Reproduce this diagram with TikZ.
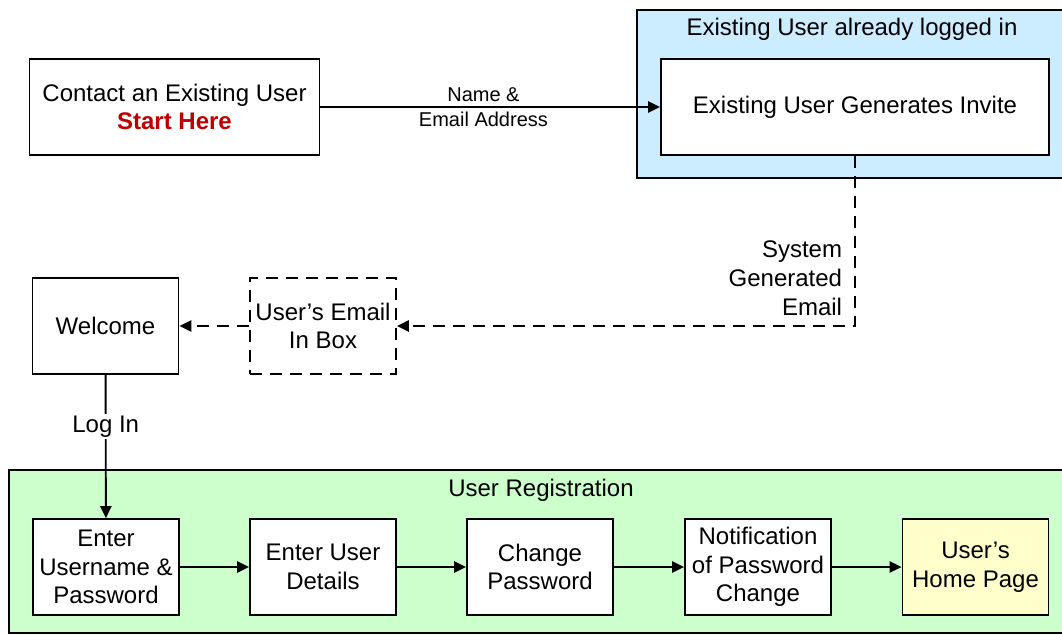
\documentclass[tikz,border=0pt]{standalone}
\usepackage{fontspec}
\setmainfont{Liberation Sans}
\usetikzlibrary{arrows.meta}

\definecolor{loggedblue}{RGB}{204,236,255}
\definecolor{reggreen}{RGB}{204,255,204}
\definecolor{homeyellow}{RGB}{255,255,204}
\definecolor{startred}{RGB}{192,0,0}

\tikzset{
  stepbox/.style={draw, line width=1.4pt, fill=white, align=center, inner sep=2pt,
    minimum width=109.5pt, minimum height=72pt, font=\fontsize{18}{21.5}\selectfont},
  area/.style={draw, line width=1.4pt},
  flow/.style={line width=1.4pt, -{Triangle[length=9pt,width=8.5pt]}},
  mail/.style={flow, dash pattern={on 9pt off 6pt}},
  bigtext/.style={font=\fontsize{18}{21.5}\selectfont, align=center},
  smalltext/.style={font=\fontsize{15}{17}\selectfont, inner sep=3pt}
}

\begin{document}
\begin{tikzpicture}[x=0.75pt,y=0.75pt,yscale=-1,xscale=1]
\useasboundingbox (0,0) rectangle (1062,635);

% Containers
\draw [area, fill=loggedblue] (637,10) rectangle (1066,178);
\draw [area, fill=reggreen] (9,470) rectangle (1066,633);
\node [bigtext] (loggedtitle) at (852,29) {Existing User already logged in};
\node [bigtext] (regtitle) at (541,490) {User Registration};

% Top row
\node [stepbox, minimum width=217.5pt] (contact) at (174.5,107)
  {Contact an Existing User\\ {\bfseries\color{startred}Start Here}};
\node [stepbox, minimum width=291pt] (invite) at (855,107) {Existing User Generates Invite};

% Middle row
\node [stepbox] (welcome) at (105.5,326) {Welcome};
\node [stepbox, dash pattern={on 9pt off 6pt}] (inbox) at (323,326) {User’s Email\\In Box};

% Registration steps
\node [stepbox] (login) at (106,567) {Enter\\Username \&\\Password};
\node [stepbox] (details) at (323,567) {Enter User\\Details};
\node [stepbox] (password) at (540,567) {Change\\Password};
\node [stepbox] (notify) at (758,567) {Notification\\of Password\\Change};
\node [stepbox, fill=homeyellow] (home) at (975.5,567) {User’s\\Home Page};

% Connectors
\draw [flow] (contact) -- (invite)
  node [smalltext, pos=0.48, above] {Name \&}
  node [smalltext, pos=0.48, below] {Email Address};
\draw [mail] (invite.south) |- (inbox.east)
  node [bigtext, pos=0.36, anchor=east, align=right, inner sep=9pt] {System\\Generated\\Email};
\draw [mail] (inbox) -- (welcome);
\draw [flow] (welcome) -- (login)
  node [bigtext, pos=0.36, fill=white, inner sep=1pt] {Log In};
\foreach \a/\b in {login/details, details/password, password/notify, notify/home}
  \draw [flow] (\a) -- (\b);

\end{tikzpicture}
\end{document}
